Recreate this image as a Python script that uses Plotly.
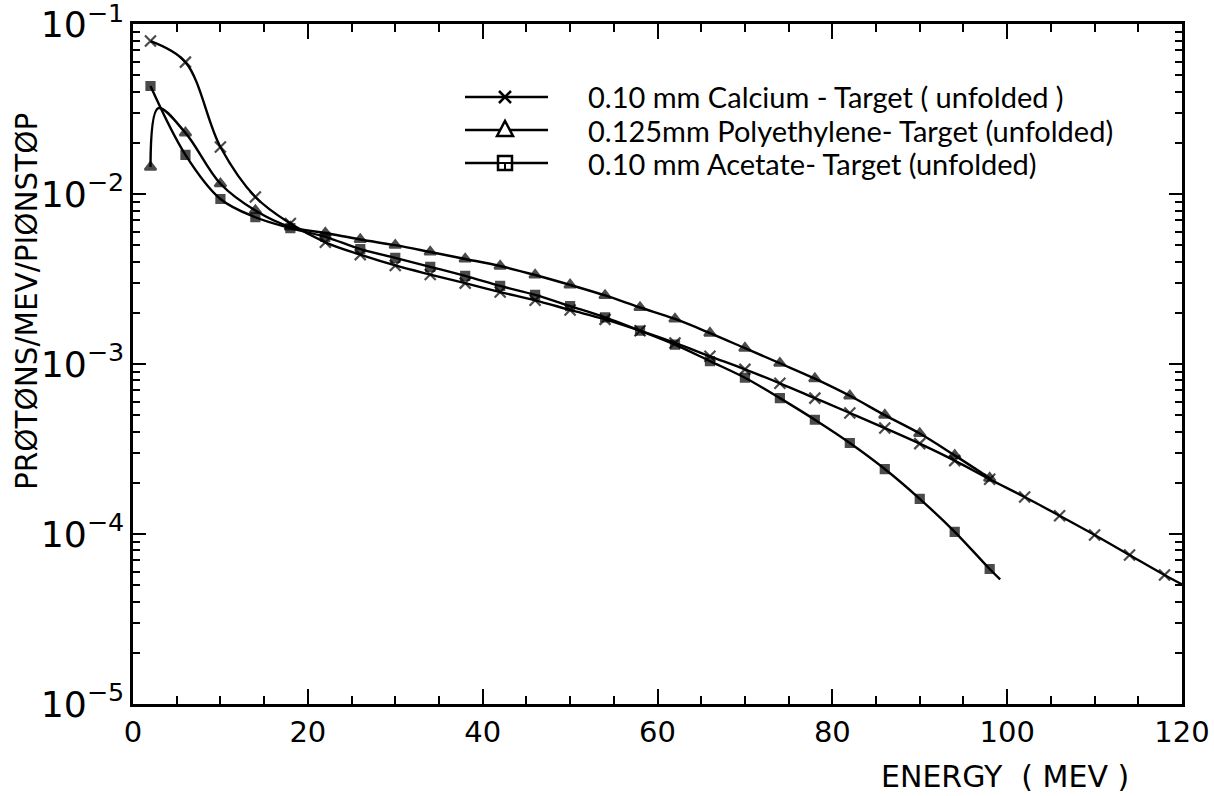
import plotly.graph_objects as go

# ---- data: proton spectra per stopped pion, unfolded ----
ca_energy = [2, 6, 10, 14, 18, 22, 26, 30, 34, 38, 42, 46, 50, 54, 58, 62, 66, 70,
             74, 78, 82, 86, 90, 94, 98, 102, 106, 110, 114, 118, 121.5]
ca_yield = [0.0794, 0.0597, 0.0189, 0.0096, 0.0067, 0.0052, 0.0044, 0.0038, 0.00336,
            0.00299, 0.00265, 0.00237, 0.00208, 0.00183, 0.00157, 0.00133, 0.00111,
            0.00093, 0.00077, 0.00063, 0.000515, 0.00042, 0.00034, 0.00027, 0.00021,
            0.000165, 0.000128, 0.0000987, 0.0000752, 0.0000574, 0.000046]
ca_marked = [True] * 30 + [False]

pe_energy = [2, 2.9, 6, 10, 14, 18, 22, 26, 30, 34, 38, 42, 46, 50, 54, 58, 62, 66,
             70, 74, 78, 82, 86, 90, 94, 98]
pe_yield = [0.0144, 0.032, 0.0229, 0.0115, 0.0080, 0.0064, 0.0059, 0.0054, 0.0050,
            0.00456, 0.00415, 0.00377, 0.00334, 0.00292, 0.00253, 0.00215, 0.00184,
            0.00152, 0.00124, 0.00101, 0.00082, 0.00065, 0.00050, 0.00039, 0.00029,
            0.000213]
pe_marked = [True, False] + [True] * 24

ac_energy = [2, 6, 10, 14, 18, 22, 26, 30, 34, 38, 42, 46, 50, 54, 58, 62, 66, 70,
             74, 78, 82, 86, 90, 94, 98, 99.2]
ac_yield = [0.0432, 0.017, 0.00935, 0.0073, 0.0063, 0.0056, 0.00474, 0.00421, 0.00373,
            0.0033, 0.00288, 0.00255, 0.00219, 0.00188, 0.00157, 0.0013, 0.00104,
            0.00083, 0.00063, 0.00047, 0.000343, 0.000241, 0.000161, 0.000103,
            0.0000622, 0.000054]
ac_marked = [True] * 25 + [False]

legend_labels = ["0.10 mm Calcium - Target ( unfolded )",
                 "0.125mm Polyethylene- Target (unfolded)",
                 "0.10 mm Acetate- Target (unfolded)"]

# ---- page geometry (pixels) ----
W, H = 1214, 796
X0, X1, Y0, Y1 = 133, 1182, 24, 704
PLOT_FONT = "DejaVu Sans"
LEG_FONT = "Lato, DejaVu Sans"


def px(x):
    return (x - X0) / (X1 - X0)


def py(y):
    return (Y1 - y) / (Y1 - Y0)


fig = go.Figure()


def add_series(xs, ys, marked, symbol, size):
    fig.add_trace(go.Scatter(
        x=xs, y=ys, mode="lines+markers", showlegend=False,
        line=dict(color="black", width=2.4, shape="spline", smoothing=1.0),
        marker=dict(symbol=symbol, color="black",
                    size=[size if m else 0 for m in marked],
                    line=dict(color="black", width=2.2)),
    ))


add_series(ca_energy, ca_yield, ca_marked, "x-thin", 11)
add_series(pe_energy, pe_yield, pe_marked, "triangle-up", 10)
add_series(ac_energy, ac_yield, ac_marked, "square", 8)

fig.update_xaxes(
    range=[0, 120], tickmode="linear", tick0=0, dtick=20,
    showline=True, linewidth=3, linecolor="black",
    mirror="ticks", ticks="inside", ticklen=15, tickwidth=2, tickcolor="black",
    minor=dict(tickmode="linear", dtick=5, ticks="inside", ticklen=8, tickwidth=2,
               tickcolor="black", showgrid=False),
    showgrid=False, zeroline=False, ticklabeloverflow="allow", automargin=False,
    tickfont=dict(family=PLOT_FONT, size=29, color="black"),
)
fig.update_yaxes(
    type="log", range=[-5.0003, -0.9997], tick0=0, dtick=1, exponentformat="power",
    showline=True, linewidth=3, linecolor="black",
    mirror="ticks", ticks="inside", ticklen=13, tickwidth=2, tickcolor="black",
    minor=dict(dtick="D1", ticks="inside", ticklen=7, tickwidth=2,
               tickcolor="black", showgrid=False),
    showgrid=False, zeroline=False, ticklabeloverflow="allow", automargin=False,
    tickfont=dict(family=PLOT_FONT, size=29, color="black"),
)

shapes = []
annotations = []

# legend: sample line, symbol and label for each target
leg_rows = [97, 130, 163]
mx = 505
for row, label in zip(leg_rows, legend_labels):
    shapes.append(dict(type="line", xref="paper", yref="paper",
                       x0=px(465), x1=px(548), y0=py(row), y1=py(row),
                       line=dict(color="black", width=2.5)))
    annotations.append(dict(text=label, xref="paper", yref="paper",
                            x=px(586), y=py(row), xanchor="left", yanchor="middle",
                            showarrow=False,
                            font=dict(family=LEG_FONT, size=29, color="black")))
r0 = leg_rows[0]
for (ax, ay, bx, by) in [(-6, -6, 6, 6), (-6, 6, 6, -6)]:
    shapes.append(dict(type="line", xref="paper", yref="paper",
                       x0=px(mx + ax), y0=py(r0 + ay), x1=px(mx + bx), y1=py(r0 + by),
                       line=dict(color="black", width=2.5)))
r1 = leg_rows[1]
tri = "M {} {} L {} {} L {} {} Z".format(px(mx - 8), py(r1 + 6), px(mx), py(r1 - 9),
                                         px(mx + 8), py(r1 + 6))
shapes.append(dict(type="path", xref="paper", yref="paper", path=tri,
                   fillcolor="white", line=dict(color="black", width=2.5)))
r2 = leg_rows[2]
shapes.append(dict(type="rect", xref="paper", yref="paper",
                   x0=px(mx - 7), x1=px(mx + 7), y0=py(r2 + 7), y1=py(r2 - 7),
                   fillcolor="white", line=dict(color="black", width=2.5)))
shapes.append(dict(type="line", xref="paper", yref="paper",
                   x0=px(mx - 7), x1=px(mx + 7), y0=py(r2), y1=py(r2),
                   line=dict(color="black", width=2)))
shapes.append(dict(type="line", xref="paper", yref="paper",
                   x0=px(mx), x1=px(mx), y0=py(r2 + 7), y1=py(r2),
                   line=dict(color="black", width=2)))

# axis titles
annotations.append(dict(text="PRØTØNS/MEV/PIØNSTØP", xref="paper", yref="paper",
                        x=px(27), y=py(302), textangle=-90, showarrow=False,
                        xanchor="center", yanchor="middle",
                        font=dict(family=PLOT_FONT, size=29.5, color="black")))
annotations.append(dict(text="ENERGY\u00a0\u00a0(\u00a0MEV\u00a0)", xref="paper",
                        yref="paper", x=px(1005), y=py(776), showarrow=False,
                        xanchor="center", yanchor="middle",
                        font=dict(family=PLOT_FONT, size=30, color="black")))

fig.update_layout(
    width=W, height=H,
    margin=dict(l=X0, r=W - X1, t=Y0, b=H - Y1, autoexpand=False),
    paper_bgcolor="white", plot_bgcolor="white",
    shapes=shapes, annotations=annotations, showlegend=False,
)

fig.write_html("out.html")
